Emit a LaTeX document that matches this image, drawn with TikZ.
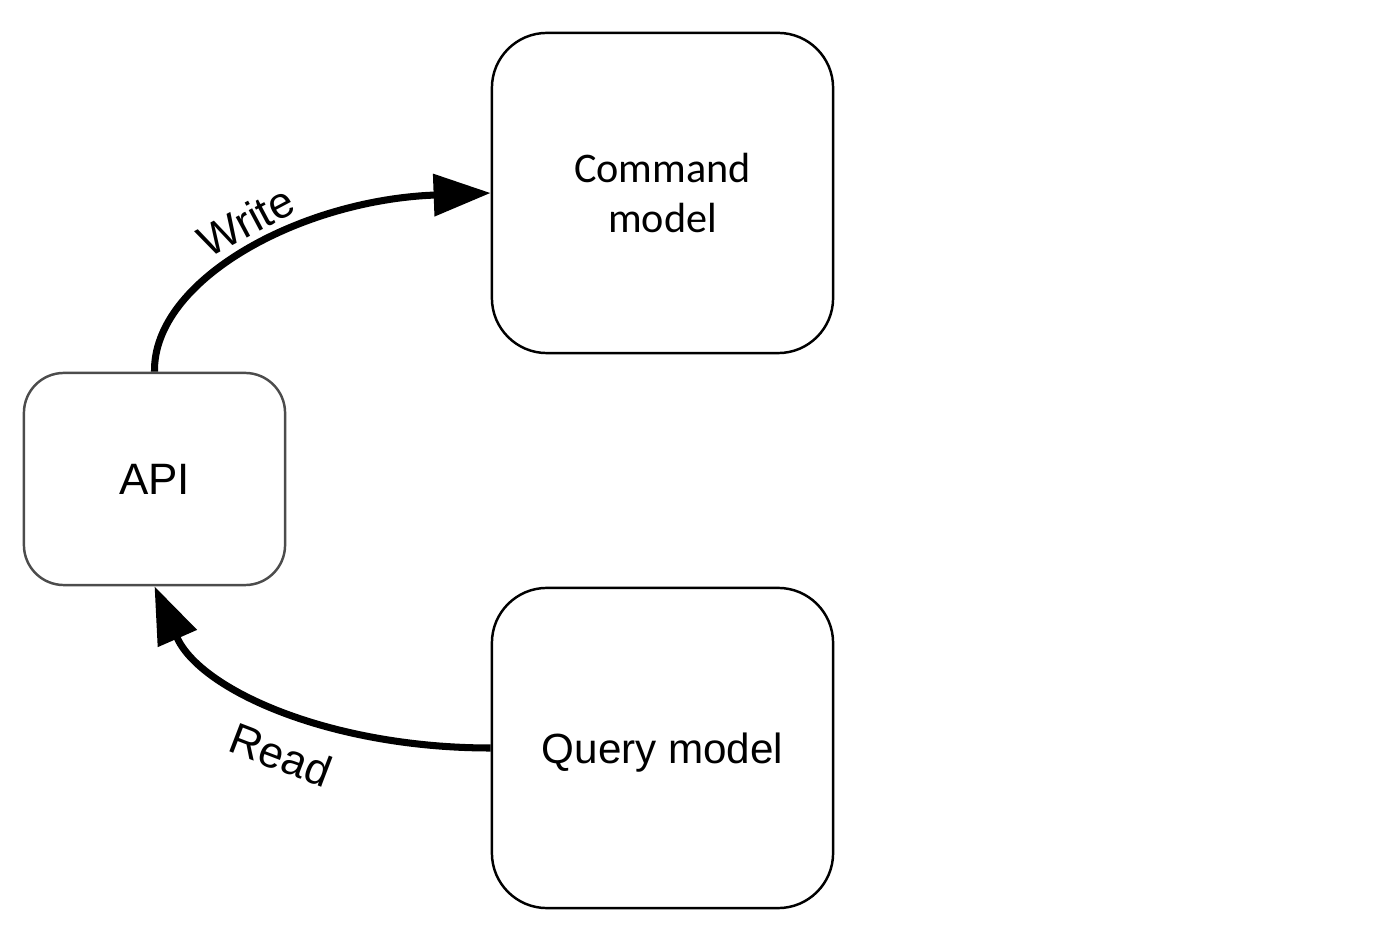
\documentclass[tikz,border=0pt]{standalone}
\usepackage{fontspec}
\setmainfont{Liberation Sans}
\newfontfamily\calibri{Carlito}
\usetikzlibrary{positioning,arrows.meta}

\tikzset{
  modelbox/.style={draw=black,line width=0.7pt,rounded corners=0.55cm,minimum width=3.41cm,minimum height=3.2cm,align=center,font=\fontsize{12}{14.2}\selectfont},
  apibox/.style={draw=black!70,line width=0.7pt,rounded corners=0.4cm,minimum width=2.61cm,minimum height=2.12cm,font=\fontsize{12.5}{15}\selectfont},
  flow/.style={line width=2pt,-{Triangle[length=5.7mm,width=4.1mm]}},
  lbl/.style={font=\fontsize{12.5}{15}\selectfont}
}

\begin{document}
\begin{tikzpicture}[x=0.01cm,y=-0.01cm]
\useasboundingbox (0,0) rectangle (1400,934);
\node[modelbox] (cmd) at (662.5,193) {\calibri Command\\\calibri model};
\node[apibox] (api) at (154.5,479) {API};
\node[modelbox] (qry) at (662.5,748) {\raisebox{-1.4pt}[\height][\depth]{Query model}};
\draw[flow] (api.north) .. controls (153,280) and (300,200) .. (cmd.west);
\draw[flow] (qry.west) .. controls (330,748) and (200,690) .. (api.south);
\node[lbl,rotate=28] (write) at (246,221) {Write};
\node[lbl,rotate=-21] (read) at (281,755) {Read};
\end{tikzpicture}
\end{document}
